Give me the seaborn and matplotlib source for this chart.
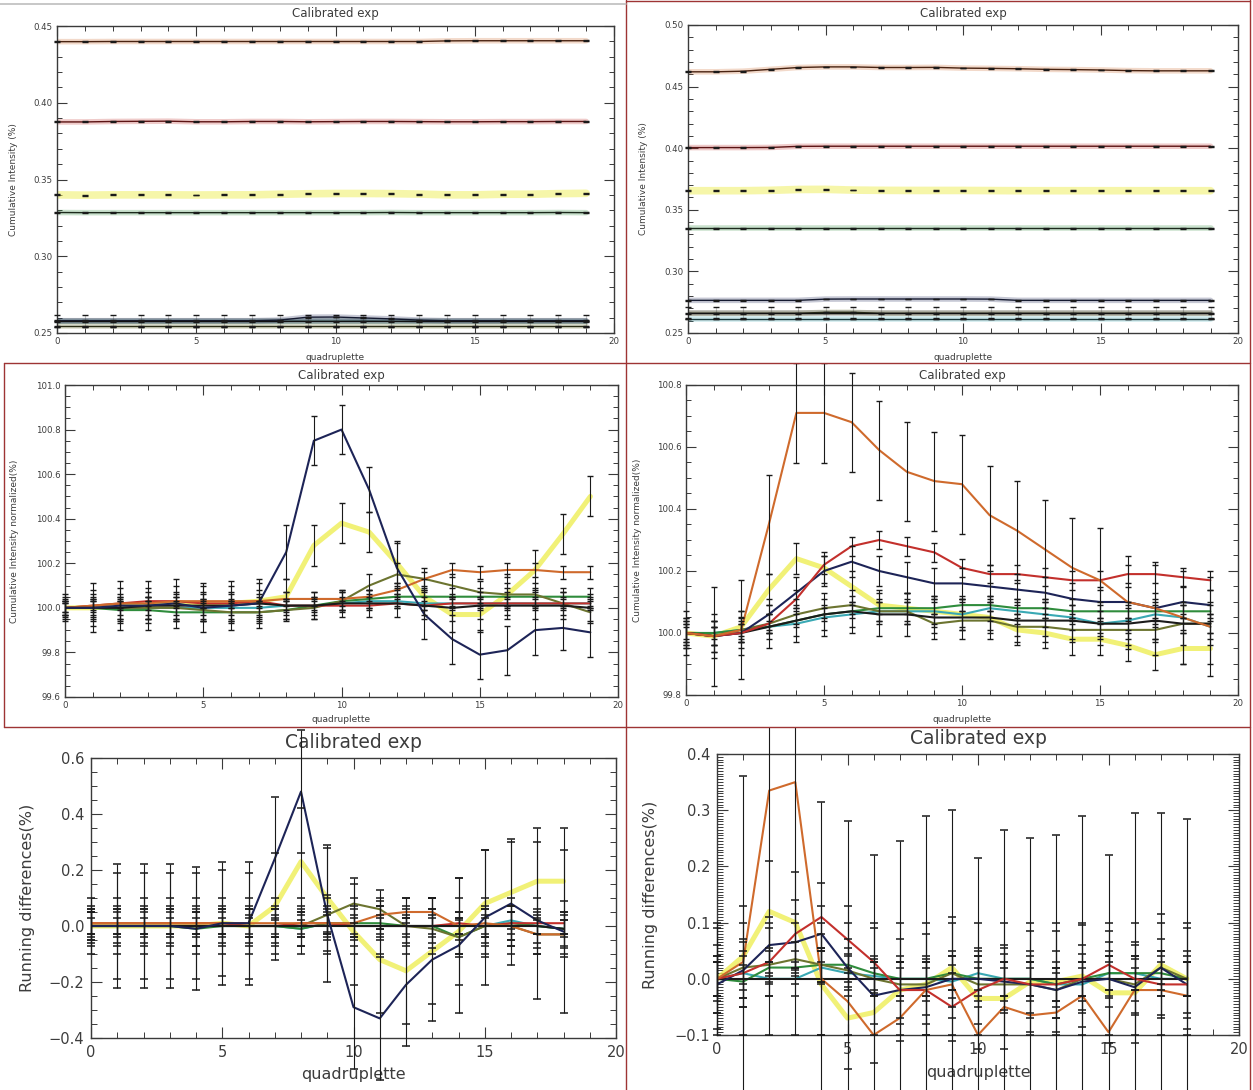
import numpy as np
import pandas as pd
import matplotlib
matplotlib.use("Agg")
import matplotlib.pyplot as plt
import seaborn as sns
from matplotlib.ticker import MultipleLocator, FuncFormatter
from matplotlib.patches import Rectangle
from matplotlib.lines import Line2D

# ------------------------------------------------------------------ data
quad = list(range(20))
quad_diff = list(range(19))

# cumulative intensity (%), campaign A
tl_orange = [0.4398, 0.4398, 0.4399, 0.4399, 0.4399, 0.4399, 0.4399, 0.4399, 0.4399, 0.4399,
             0.4399, 0.4399, 0.4399, 0.4399, 0.4403, 0.4404, 0.4404, 0.4404, 0.4404, 0.4404]
tl_red = [0.3875, 0.3875, 0.3878, 0.3879, 0.3880, 0.3876, 0.3876, 0.3878, 0.3878, 0.3876,
          0.3877, 0.3878, 0.3878, 0.3877, 0.3876, 0.3876, 0.3877, 0.3877, 0.3878, 0.3878]
tl_yellow = [0.3400, 0.3398, 0.3400, 0.3400, 0.3400, 0.3399, 0.3400, 0.3400, 0.3404, 0.3407,
             0.3409, 0.3409, 0.3408, 0.3405, 0.3400, 0.3400, 0.3404, 0.3404, 0.3408, 0.3410]
tl_green = [0.3285, 0.3284, 0.3284, 0.3284, 0.3284, 0.3284, 0.3284, 0.3284, 0.3284, 0.3284,
            0.3284, 0.3284, 0.3285, 0.3284, 0.3284, 0.3284, 0.3284, 0.3284, 0.3285, 0.3284]
tl_navy = [0.2580, 0.2580, 0.2580, 0.2580, 0.2580, 0.2580, 0.2580, 0.2580, 0.2584, 0.2603,
           0.2604, 0.2598, 0.2592, 0.2584, 0.2580, 0.2580, 0.2580, 0.2580, 0.2580, 0.2580]
tl_teal = [0.2576, 0.2576, 0.2576, 0.2576, 0.2576, 0.2576, 0.2576, 0.2576, 0.2576, 0.2577,
           0.2577, 0.2577, 0.2576, 0.2576, 0.2576, 0.2576, 0.2576, 0.2576, 0.2576, 0.2576]
tl_olive = [0.2545, 0.2545, 0.2545, 0.2545, 0.2545, 0.2545, 0.2545, 0.2545, 0.2545, 0.2545,
            0.2545, 0.2545, 0.2545, 0.2545, 0.2545, 0.2545, 0.2545, 0.2545, 0.2545, 0.2545]
tl_black = [0.2580, 0.2580, 0.2580, 0.2580, 0.2580, 0.2580, 0.2580, 0.2580, 0.2580, 0.2580,
            0.2580, 0.2580, 0.2580, 0.2580, 0.2580, 0.2580, 0.2580, 0.2580, 0.2580, 0.2580]
tl_small_err = 0.0003
tl_black_err = 0.0040

# cumulative intensity (%), campaign B
tr_orange = [0.4620, 0.4620, 0.4625, 0.4640, 0.4655, 0.4660, 0.4660, 0.4655, 0.4655, 0.4656,
             0.4650, 0.4648, 0.4645, 0.4640, 0.4638, 0.4635, 0.4630, 0.4628, 0.4628, 0.4628]
tr_red = [0.4005, 0.4005, 0.4005, 0.4006, 0.4015, 0.4016, 0.4016, 0.4016, 0.4016, 0.4016,
          0.4016, 0.4016, 0.4016, 0.4016, 0.4016, 0.4016, 0.4016, 0.4016, 0.4016, 0.4016]
tr_yellow = [0.3655, 0.3655, 0.3655, 0.3658, 0.3665, 0.3666, 0.3660, 0.3658, 0.3657, 0.3657,
             0.3657, 0.3656, 0.3655, 0.3655, 0.3655, 0.3655, 0.3655, 0.3655, 0.3655, 0.3655]
tr_green = [0.3350, 0.3350, 0.3350, 0.3350, 0.3350, 0.3350, 0.3350, 0.3350, 0.3350, 0.3350,
            0.3350, 0.3350, 0.3350, 0.3350, 0.3350, 0.3350, 0.3350, 0.3350, 0.3350, 0.3350]
tr_navy = [0.2765, 0.2765, 0.2765, 0.2765, 0.2765, 0.2775, 0.2776, 0.2776, 0.2776, 0.2776,
           0.2776, 0.2775, 0.2765, 0.2765, 0.2765, 0.2765, 0.2765, 0.2765, 0.2765, 0.2765]
tr_olive = [0.2660, 0.2660, 0.2660, 0.2660, 0.2660, 0.2668, 0.2668, 0.2660, 0.2660, 0.2660,
            0.2660, 0.2660, 0.2660, 0.2660, 0.2660, 0.2660, 0.2660, 0.2660, 0.2660, 0.2660]
tr_teal = [0.2615, 0.2615, 0.2615, 0.2615, 0.2615, 0.2615, 0.2615, 0.2615, 0.2615, 0.2615,
           0.2615, 0.2615, 0.2615, 0.2615, 0.2615, 0.2615, 0.2615, 0.2615, 0.2615, 0.2615]
tr_black = [0.2660, 0.2660, 0.2660, 0.2660, 0.2660, 0.2660, 0.2660, 0.2660, 0.2660, 0.2660,
            0.2660, 0.2660, 0.2660, 0.2660, 0.2660, 0.2660, 0.2660, 0.2660, 0.2660, 0.2660]
tr_small_err = 0.0003
tr_black_err = 0.0050

# normalized cumulative intensity (%), campaign A
ml_navy = [100.00, 100.00, 100.01, 100.01, 100.02, 100.00, 100.01, 100.02, 100.25, 100.75,
           100.80, 100.53, 100.18, 99.97, 99.86, 99.79, 99.81, 99.90, 99.91, 99.89]
ml_navy_err = [0.03, 0.11, 0.11, 0.11, 0.11, 0.11, 0.11, 0.11, 0.12, 0.11,
               0.11, 0.10, 0.12, 0.11, 0.11, 0.11, 0.11, 0.11, 0.10, 0.11]
ml_yellow = [100.00, 100.00, 100.01, 100.01, 100.02, 100.02, 100.02, 100.03, 100.05, 100.28,
             100.38, 100.34, 100.20, 100.05, 99.97, 99.97, 100.06, 100.17, 100.33, 100.50]
ml_yellow_err = [0.02, 0.08, 0.08, 0.08, 0.08, 0.08, 0.08, 0.08, 0.08, 0.09,
                 0.09, 0.09, 0.09, 0.08, 0.08, 0.08, 0.09, 0.09, 0.09, 0.09]
ml_orange = [100.00, 100.01, 100.02, 100.02, 100.03, 100.03, 100.03, 100.03, 100.04, 100.04,
             100.04, 100.05, 100.08, 100.13, 100.17, 100.16, 100.17, 100.17, 100.16, 100.16]
ml_olive = [100.00, 100.00, 100.00, 100.00, 100.00, 99.99, 99.98, 99.98, 99.99, 100.00,
            100.03, 100.10, 100.15, 100.13, 100.10, 100.07, 100.06, 100.06, 100.02, 99.98]
ml_green = [100.00, 100.00, 99.99, 99.99, 99.98, 99.98, 99.98, 99.98, 99.99, 100.01,
            100.03, 100.04, 100.05, 100.05, 100.05, 100.05, 100.05, 100.05, 100.05, 100.05]
ml_red = [100.00, 100.01, 100.02, 100.03, 100.03, 100.02, 100.02, 100.03, 100.01, 100.01,
          100.01, 100.01, 100.02, 100.01, 100.02, 100.02, 100.02, 100.02, 100.02, 100.02]
ml_teal = [100.00, 100.00, 100.00, 100.00, 100.00, 100.00, 100.00, 100.00, 100.01, 100.01,
           100.02, 100.03, 100.03, 100.02, 100.02, 100.02, 100.02, 100.02, 100.02, 100.02]
ml_black = [100.00, 100.00, 100.00, 100.01, 100.01, 100.01, 100.01, 100.02, 100.01, 100.01,
            100.02, 100.02, 100.02, 100.01, 100.00, 100.01, 100.01, 100.01, 100.01, 100.00]
ml_orange_err = 0.03
ml_olive_err = 0.05
ml_green_err = 0.04
ml_red_err = 0.02
ml_teal_err = 0.03
ml_black_err = 0.06

# normalized cumulative intensity (%), campaign B
mr_orange = [100.00, 99.99, 100.01, 100.35, 100.71, 100.71, 100.68, 100.59, 100.52, 100.49,
             100.48, 100.38, 100.33, 100.27, 100.21, 100.17, 100.10, 100.08, 100.05, 100.02]
mr_orange_err = [0.04, 0.16, 0.16, 0.16, 0.16, 0.16, 0.16, 0.16, 0.16, 0.16,
                 0.16, 0.16, 0.16, 0.16, 0.16, 0.17, 0.15, 0.15, 0.15, 0.16]
mr_red = [100.00, 99.99, 100.00, 100.03, 100.11, 100.22, 100.28, 100.30, 100.28, 100.26,
          100.21, 100.19, 100.19, 100.18, 100.17, 100.17, 100.19, 100.19, 100.18, 100.17]
mr_navy = [100.00, 99.99, 100.00, 100.06, 100.13, 100.20, 100.23, 100.20, 100.18, 100.16,
           100.16, 100.15, 100.14, 100.13, 100.11, 100.10, 100.10, 100.08, 100.10, 100.09]
mr_yellow = [100.00, 99.99, 100.02, 100.14, 100.24, 100.21, 100.15, 100.09, 100.08, 100.07,
             100.06, 100.05, 100.01, 100.00, 99.98, 99.98, 99.96, 99.93, 99.95, 99.95]
mr_olive = [100.00, 99.99, 100.01, 100.03, 100.06, 100.08, 100.09, 100.07, 100.07, 100.03,
            100.04, 100.04, 100.02, 100.02, 100.01, 100.01, 100.01, 100.01, 100.03, 100.03]
mr_green = [100.00, 100.00, 100.01, 100.02, 100.04, 100.06, 100.07, 100.08, 100.08, 100.08,
            100.09, 100.09, 100.08, 100.08, 100.07, 100.07, 100.07, 100.07, 100.07, 100.07]
mr_teal = [100.00, 100.00, 100.01, 100.02, 100.03, 100.05, 100.06, 100.07, 100.07, 100.07,
           100.06, 100.08, 100.07, 100.06, 100.05, 100.03, 100.04, 100.06, 100.05, 100.02]
mr_black = [100.00, 99.99, 100.00, 100.02, 100.04, 100.06, 100.07, 100.06, 100.06, 100.05,
            100.05, 100.05, 100.04, 100.04, 100.04, 100.03, 100.03, 100.04, 100.03, 100.03]
mr_red_err = 0.03
mr_navy_err = 0.05
mr_yellow_err = 0.05
mr_olive_err = 0.03
mr_green_err = 0.02
mr_teal_err = 0.04
mr_black_err = 0.07

# running differences (%), campaign A
bl_navy = [0.00, 0.00, 0.00, 0.00, -0.01, 0.01, 0.01, 0.24, 0.48, 0.04,
           -0.29, -0.33, -0.21, -0.12, -0.07, 0.03, 0.08, 0.02, -0.02]
bl_navy_err = [0.05, 0.22, 0.22, 0.22, 0.22, 0.22, 0.22, 0.22, 0.22, 0.24,
               0.22, 0.22, 0.22, 0.22, 0.24, 0.24, 0.22, 0.28, 0.29]
bl_yellow = [0.00, 0.00, 0.00, 0.00, 0.00, 0.01, 0.00, 0.07, 0.23, 0.10,
             -0.02, -0.12, -0.16, -0.09, -0.02, 0.08, 0.12, 0.16, 0.16]
bl_yellow_err = [0.05, 0.19, 0.19, 0.19, 0.19, 0.19, 0.19, 0.19, 0.19, 0.19,
                 0.19, 0.19, 0.19, 0.19, 0.19, 0.19, 0.19, 0.19, 0.19]
bl_olive = [0.00, 0.00, 0.00, 0.00, 0.00, 0.00, 0.00, 0.00, 0.00, 0.04,
            0.08, 0.06, 0.00, -0.01, -0.04, 0.00, 0.00, -0.03, -0.03]
bl_orange = [0.01, 0.01, 0.01, 0.01, 0.01, 0.01, 0.01, 0.01, 0.01, 0.01,
             0.01, 0.04, 0.05, 0.05, 0.00, 0.01, 0.00, -0.03, -0.03]
bl_red = [0.01, 0.01, 0.01, 0.01, 0.01, 0.01, 0.00, 0.00, 0.01, 0.01,
          0.00, 0.00, 0.00, 0.00, 0.01, 0.00, 0.01, 0.01, 0.01]
bl_green = [0.00, 0.00, 0.00, 0.00, -0.01, 0.00, 0.00, 0.00, -0.01, 0.01,
            0.01, 0.01, 0.00, 0.00, -0.04, 0.00, 0.01, 0.00, -0.01]
bl_teal = [0.00, 0.00, 0.00, 0.00, 0.00, 0.00, 0.00, 0.00, -0.01, 0.01,
           0.00, 0.00, 0.00, 0.00, 0.00, 0.00, 0.02, 0.00, -0.01]
bl_black = [0.00, 0.00, 0.00, 0.00, 0.00, 0.00, 0.00, 0.00, 0.00, 0.00,
            0.00, 0.00, 0.00, 0.00, 0.00, 0.00, 0.00, 0.00, -0.01]
bl_olive_err = 0.07
bl_orange_err = 0.05
bl_red_err = 0.04
bl_green_err = 0.06
bl_teal_err = 0.03
bl_black_err = 0.10

# running differences (%), campaign B
br_orange = [0.00, 0.03, 0.335, 0.35, 0.00, -0.04, -0.10, -0.07, -0.02, -0.01,
             -0.10, -0.05, -0.065, -0.06, -0.03, -0.095, -0.02, -0.02, -0.03]
br_orange_err = [0.04, 0.33, 0.33, 0.33, 0.315, 0.32, 0.32, 0.315, 0.31, 0.31,
                 0.315, 0.315, 0.315, 0.315, 0.32, 0.315, 0.315, 0.315, 0.315]
br_red = [0.00, 0.01, 0.03, 0.08, 0.11, 0.07, 0.03, -0.02, -0.02, -0.05,
          -0.02, 0.00, -0.01, -0.01, 0.00, 0.025, 0.00, -0.01, -0.01]
br_navy = [-0.01, 0.015, 0.06, 0.065, 0.08, 0.02, -0.03, -0.02, -0.015, 0.00,
           0.00, -0.005, -0.01, -0.02, -0.005, 0.00, -0.015, 0.02, -0.01]
br_yellow = [0.00, 0.04, 0.12, 0.10, -0.01, -0.07, -0.06, -0.02, -0.01, 0.02,
             -0.035, -0.035, -0.005, -0.005, 0.005, -0.025, -0.025, 0.025, 0.00]
br_olive = [0.00, 0.02, 0.025, 0.035, 0.025, 0.015, 0.00, -0.01, -0.01, 0.01,
            -0.01, -0.01, -0.01, -0.02, 0.00, 0.00, -0.01, 0.02, 0.00]
br_green = [0.00, -0.005, 0.02, 0.02, 0.025, 0.025, 0.01, 0.00, 0.00, 0.01,
            0.00, 0.00, 0.00, -0.01, 0.00, 0.01, 0.01, 0.01, 0.00]
br_teal = [0.00, 0.01, 0.00, 0.00, 0.02, 0.01, 0.005, 0.00, 0.00, -0.005,
           0.01, 0.00, 0.00, -0.01, -0.01, 0.01, 0.01, 0.00, 0.00]
br_black = [0.00, 0.00, 0.00, 0.00, 0.00, 0.00, 0.00, 0.00, 0.00, 0.00,
            0.00, 0.00, 0.00, 0.00, 0.00, 0.00, 0.00, 0.00, 0.00]
br_red_err = 0.06
br_navy_err = 0.05
br_yellow_err = 0.09
br_olive_err = 0.03
br_green_err = 0.03
br_teal_err = 0.03
br_black_err = 0.10

# ------------------------------------------------------------------ style
COLORS = {"orange": "#cf6a2c", "red": "#c3302c", "yellow": "#eeee55", "navy": "#1d2457",
          "green": "#2f8c3c", "olive": "#6c7430", "teal": "#3aa9b4", "black": "#1b1b1b"}
CORE = {"orange": "#4a2412", "red": "#5c1414", "green": "#1c2a1c", "navy": "#151a30",
        "teal": "#1b3a3c", "olive": "#2b2e16", "black": "#111111"}
AX_COLOR = "#3a3a3a"
TEXT_COLOR = "#3c3c3c"
BORDER = "#9e3434"

sns.set_theme(style="white")
plt.rcParams["font.family"] = ["DejaVu Sans"]
plt.rcParams["axes.unicode_minus"] = True

W, H = 1253, 1090
fig = plt.figure(figsize=(W / 100, H / 100), dpi=100)
fig.patch.set_facecolor("white")


def px_axes(l, t, r, b):
    return fig.add_axes([l / W, 1 - b / H, (r - l) / W, (b - t) / H])


def cell_rect(x0, y0, x1, y1):
    return Rectangle((x0 / W, 1 - y1 / H), (x1 - x0) / W, (y1 - y0) / H,
                     transform=fig.transFigure, facecolor="none", edgecolor="none")


def tick_fmt(decimals):
    def f(v, _):
        if abs(v) < 1e-9:
            v = 0.0
        return f"{v:.{decimals}f}".replace("-", "\u2212")
    return FuncFormatter(f)


def draw_series(ax, x, series, mode, clip, capsize, capthick):
    for name, vals, err in series:
        c = COLORS[name]
        df = pd.DataFrame({"quadruplette": x, "value": vals})
        if mode == "glow":
            sns.lineplot(data=df, x="quadruplette", y="value", ax=ax, errorbar=None,
                         color=c, linewidth=5.5 if name == "yellow" else 4.0,
                         alpha=0.5 if name == "yellow" else 0.25, zorder=2)
            if name != "yellow":
                sns.lineplot(data=df, x="quadruplette", y="value", ax=ax, errorbar=None,
                             color=CORE[name], linewidth=1.0, zorder=3)
        else:
            if name == "yellow":
                sns.lineplot(data=df, x="quadruplette", y="value", ax=ax, errorbar=None,
                             color=c, linewidth=3.6, alpha=0.8, zorder=2)
            else:
                sns.lineplot(data=df, x="quadruplette", y="value", ax=ax, errorbar=None,
                             color=c, linewidth=1.5, zorder=3)
        cont = ax.errorbar(x, vals, yerr=err, fmt="none", ecolor="#1a1a1a",
                           elinewidth=0.8, capsize=capsize, capthick=capthick, zorder=4)
        for art in list(cont.lines[1]) + list(cont.lines[2]):
            art.set_clip_path(clip)
        if mode == "glow":
            for art in cont.lines[2]:
                art.set_alpha(0.25)


def style_axes(ax, box, ylim, major, minor, decimals, small, title, ylabel,
               title_y, ylabel_x, xlabel_y):
    l, t, r, b = box
    ax.set_xlim(0, 20)
    ax.set_ylim(*ylim)
    ax.xaxis.set_major_locator(MultipleLocator(5))
    ax.xaxis.set_minor_locator(MultipleLocator(1))
    ax.yaxis.set_major_locator(MultipleLocator(major))
    ax.yaxis.set_minor_locator(MultipleLocator(minor))
    ax.yaxis.set_major_formatter(tick_fmt(decimals))
    ax.xaxis.set_major_formatter(tick_fmt(0))
    tick_fs = 6.2 if small else 10.5
    lab_fs = 6.5 if small else 11.5
    ttl_fs = 8.5 if small else 13.5
    ax.tick_params(which="both", direction="in", top=True, right=True, bottom=True,
                   left=True, color=AX_COLOR, labelcolor=TEXT_COLOR)
    ax.tick_params(which="major", length=7 if small else 8, width=0.8,
                   labelsize=tick_fs, pad=3 if small else 5)
    ax.tick_params(which="minor", length=3.5 if small else 4, width=0.7)
    for s in ax.spines.values():
        s.set_linewidth(1.0)
        s.set_color(AX_COLOR)
    ax.grid(False)
    ax.set_facecolor("white")

    ax.set_xlabel("quadruplette", fontsize=lab_fs, color=TEXT_COLOR)
    ax.set_ylabel(ylabel, fontsize=lab_fs, color=TEXT_COLOR)
    ax.xaxis.label.set_verticalalignment("center")
    ax.yaxis.label.set_verticalalignment("center")
    ax.yaxis.set_label_coords((ylabel_x - l) / (r - l), 0.5)
    ax.xaxis.set_label_coords(0.5, (b - xlabel_y) / (b - t))
    ax.set_title(title, fontsize=ttl_fs, color=TEXT_COLOR, pad=0,
                 y=(b - title_y) / (b - t), va="center")


# ------------------------------------------------------------------ panels
panels = [
    dict(box=(57, 26, 614, 333), cell=(0, 0, 626, 362), x=quad, mode="glow",
         series=[("yellow", tl_yellow, tl_small_err), ("teal", tl_teal, tl_small_err),
                 ("navy", tl_navy, tl_small_err), ("olive", tl_olive, tl_small_err),
                 ("green", tl_green, tl_small_err), ("red", tl_red, tl_small_err),
                 ("orange", tl_orange, tl_small_err), ("black", tl_black, tl_black_err)],
         ylim=(0.25, 0.45), major=0.05, minor=0.01, dec=2, small=True,
         ylabel="Cumulative Intensity (%)", title_y=13, ylabel_x=14, xlabel_y=357),
    dict(box=(688, 25, 1238, 333), cell=(626, 0, 1253, 362), x=quad, mode="glow",
         series=[("yellow", tr_yellow, tr_small_err), ("teal", tr_teal, tr_small_err),
                 ("olive", tr_olive, tr_small_err), ("navy", tr_navy, tr_small_err),
                 ("green", tr_green, tr_small_err), ("red", tr_red, tr_small_err),
                 ("orange", tr_orange, tr_small_err), ("black", tr_black, tr_black_err)],
         ylim=(0.25, 0.50), major=0.05, minor=0.01, dec=2, small=True,
         ylabel="Cumulative Intensity (%)", title_y=14, ylabel_x=644, xlabel_y=357),
    dict(box=(65, 385, 618, 697), cell=(0, 363, 626, 727), x=quad, mode="line",
         series=[("yellow", ml_yellow, ml_yellow_err), ("teal", ml_teal, ml_teal_err),
                 ("green", ml_green, ml_green_err), ("olive", ml_olive, ml_olive_err),
                 ("red", ml_red, ml_red_err), ("orange", ml_orange, ml_orange_err),
                 ("black", ml_black, ml_black_err), ("navy", ml_navy, ml_navy_err)],
         ylim=(99.6, 101.0), major=0.2, minor=0.05, dec=1, small=True,
         ylabel="Cumulative Intensity normalized(%)", title_y=375, ylabel_x=15, xlabel_y=719),
    dict(box=(686, 385, 1238, 695), cell=(626, 363, 1253, 727), x=quad, mode="line",
         series=[("yellow", mr_yellow, mr_yellow_err), ("teal", mr_teal, mr_teal_err),
                 ("green", mr_green, mr_green_err), ("olive", mr_olive, mr_olive_err),
                 ("black", mr_black, mr_black_err), ("navy", mr_navy, mr_navy_err),
                 ("red", mr_red, mr_red_err), ("orange", mr_orange, mr_orange_err)],
         ylim=(99.8, 100.8), major=0.2, minor=0.05, dec=1, small=True,
         ylabel="Cumulative Intensity normalized(%)", title_y=375, ylabel_x=638, xlabel_y=719),
    dict(box=(91, 758, 616, 1038), cell=(0, 727, 626, 1090), x=quad_diff, mode="line",
         series=[("yellow", bl_yellow, bl_yellow_err), ("teal", bl_teal, bl_teal_err),
                 ("green", bl_green, bl_green_err), ("olive", bl_olive, bl_olive_err),
                 ("red", bl_red, bl_red_err), ("orange", bl_orange, bl_orange_err),
                 ("black", bl_black, bl_black_err), ("navy", bl_navy, bl_navy_err)],
         ylim=(-0.4, 0.6), major=0.2, minor=0.05, dec=1, small=False,
         ylabel="Running differences(%)", title_y=743, ylabel_x=27, xlabel_y=1075),
    dict(box=(717, 754, 1239, 1035), cell=(626, 727, 1253, 1090), x=quad_diff, mode="line",
         series=[("yellow", br_yellow, br_yellow_err), ("teal", br_teal, br_teal_err),
                 ("green", br_green, br_green_err), ("olive", br_olive, br_olive_err),
                 ("black", br_black, br_black_err), ("navy", br_navy, br_navy_err),
                 ("red", br_red, br_red_err), ("orange", br_orange, br_orange_err)],
         ylim=(-0.1, 0.4), major=0.1, minor=0.005, dec=1, small=False,
         ylabel="Running differences(%)", title_y=738, ylabel_x=651, xlabel_y=1072),
]

for p in panels:
    ax = px_axes(*p["box"])
    clip = cell_rect(*p["cell"])
    small = p["small"]
    draw_series(ax, p["x"], p["series"], p["mode"], clip,
                capsize=2.2 if small else 2.6, capthick=1.0 if small else 1.1)
    style_axes(ax, p["box"], p["ylim"], p["major"], p["minor"], p["dec"], small,
               "Calibrated exp", p["ylabel"], p["title_y"], p["ylabel_x"], p["xlabel_y"])

# ------------------------------------------------------------------ panel frames
def frame_line(x0, y0, x1, y1, color=BORDER, lw=1.0):
    fig.add_artist(Line2D([x0 / W, x1 / W], [1 - y0 / H, 1 - y1 / H],
                          transform=fig.transFigure, color=color, linewidth=lw, zorder=10))


frame_line(626, 0, 626, 1090)
frame_line(1250, 0, 1250, 1090)
frame_line(4, 363, 4, 727)
frame_line(4, 363, 1250, 363)
frame_line(4, 727, 1250, 727)
frame_line(626, 1, 1250, 1)
frame_line(0, 4, 626, 4, color="#bdbdbd", lw=1.2)

fig.savefig("out.png", dpi=100, facecolor="white")
